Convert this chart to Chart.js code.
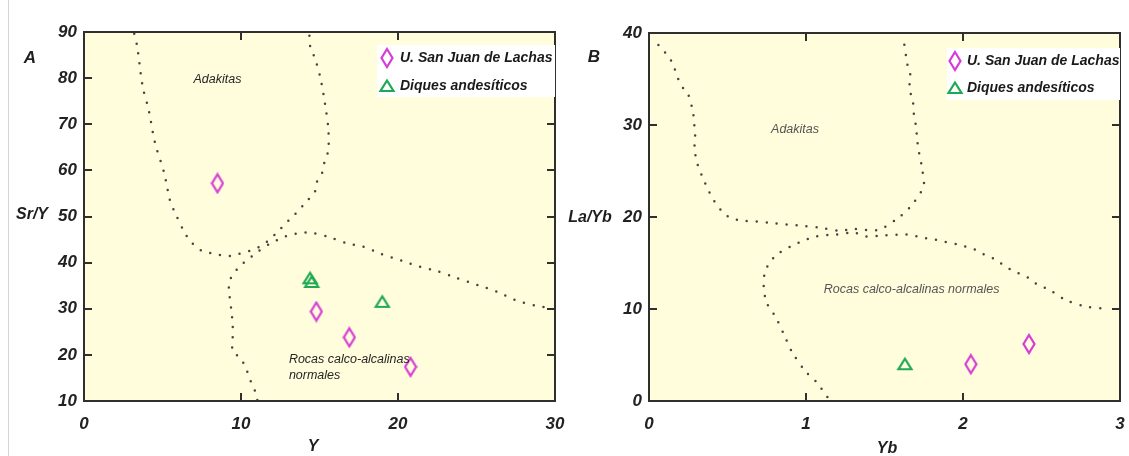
<!DOCTYPE html>
<html>
<head>
<meta charset="utf-8">
<script src="https://cdn.jsdelivr.net/npm/chart.js@4/dist/chart.umd.min.js"></script>
<style>
  html, body { margin: 0; padding: 0; background: #ffffff; }
  #wrap { position: relative; width: 1129px; height: 456px; overflow: hidden; }
  #chartA { position: absolute; left: 0; top: 0; }
  #chartB { position: absolute; left: 565px; top: 0; }
</style>
</head>
<body>
<div id="wrap">
  <canvas id="chartA" width="565" height="456"></canvas>
  <canvas id="chartB" width="564" height="456"></canvas>
</div>
<script>
// ---- Panel A: Sr/Y vs Y ----
const xTicksA = [0, 10, 20, 30];
const yTicksA = [10, 20, 30, 40, 50, 60, 70, 80, 90];
const lachasA = [[8.5, 57.2], [14.8, 29.4], [16.9, 23.8], [20.8, 17.4]];
const diquesA = [[14.4, 36.6], [14.5, 35.8], [19.0, 31.5]];
// field boundary: adakite field (left limb, base, right limb)
const adakiteBoundaryA = [
  [3.2, 89.6], [3.38, 87], [3.74, 78.1], [4.12, 73.1], [4.52, 66], [5.11, 59.4],
  [5.48, 53.4], [5.8, 50.8], [6.43, 46.4], [6.9, 44.2], [7.5, 42.6], [8.45, 41.8],
  [9.24, 41.4], [9.73, 41.8], [10.5, 42.5], [11.1, 43.3], [11.64, 44.5], [12.34, 46.7],
  [13.0, 49.0], [13.5, 50.7], [14.08, 52.9], [14.71, 55.4], [14.82, 57.4], [15.16, 59.4],
  [15.31, 61.7], [15.56, 64.4], [15.56, 69.1], [15.35, 74.4], [15.08, 79.7], [14.73, 84.1],
  [14.41, 86.8], [14.35, 89.6]
];
// field boundary: normal calc-alkaline rocks
const calcAlkBoundaryA = [
  [11.04, 10.2], [10.89, 12.2], [10.64, 14.1], [10.25, 17.6], [9.87, 19.6], [9.47, 20.7],
  [9.47, 23.9], [9.47, 26.5], [9.4, 29.2], [9.25, 33.6], [9.25, 35.9], [9.62, 38.0],
  [10.0, 39.5], [10.53, 40.9], [11.0, 42.2], [11.8, 44.0], [12.7, 45.5], [13.29, 46.1],
  [13.87, 46.5], [14.44, 46.5], [15.56, 45.6], [16.73, 44.2], [17.75, 43.5], [18.85, 42.0],
  [20.24, 40.4], [21.4, 39.1], [22.46, 38.2], [23.63, 36.8], [25.1, 35.1], [26.3, 33.7],
  [27.45, 31.9], [28.73, 30.7], [29.8, 30.1]
];

// ---- Panel B: La/Yb vs Yb ----
const xTicksB = [0, 1, 2, 3];
const yTicksB = [0, 10, 20, 30, 40];
const lachasB = [[2.05, 4.0], [2.42, 6.2]];
const diquesB = [[1.63, 4.0]];
const adakiteBoundaryB = [
  [0.06, 38.7], [0.13, 37.3], [0.155, 36.5], [0.186, 35.0], [0.218, 34.0], [0.25, 33.3],
  [0.28, 31.4], [0.288, 30.1], [0.294, 28.7], [0.29, 27.4], [0.31, 25.7], [0.339, 24.4],
  [0.373, 23.1], [0.413, 21.8], [0.466, 20.6], [0.519, 19.9], [0.6, 19.6], [0.685, 19.5],
  [0.774, 19.35], [0.875, 19.2], [0.992, 19.0], [1.104, 18.8], [1.21, 18.5], [1.305, 18.7],
  [1.458, 18.6], [1.58, 19.8], [1.659, 21.0], [1.748, 23.3], [1.74, 25.2], [1.718, 27.2],
  [1.708, 28.4], [1.702, 29.7], [1.687, 31.2], [1.68, 32.7], [1.659, 33.9], [1.664, 35.5],
  [1.649, 36.3], [1.638, 37.4], [1.623, 39.1]
];
const calcAlkBoundaryB = [
  [1.136, 0.43], [1.066, 2.05], [0.998, 3.2], [0.913, 5.27], [0.858, 7.3], [0.807, 9.1],
  [0.752, 10.6], [0.731, 12.3], [0.742, 14.2], [0.814, 15.9], [0.954, 17.2], [1.066, 17.9],
  [1.193, 18.1], [1.305, 18.3], [1.38, 17.9], [1.507, 18.0], [1.642, 18.1], [1.76, 17.7],
  [1.823, 17.55], [1.886, 17.3], [1.966, 17.0], [2.072, 16.5], [2.136, 15.9], [2.204, 15.4],
  [2.301, 14.3], [2.416, 13.4], [2.475, 12.65], [2.55, 12.1], [2.651, 11.0], [2.772, 10.3],
  [2.888, 10.05]
];

const seriesNames = ['U. San Juan de Lachas', 'Diques andesíticos'];

const FAMILY = '"Liberation Sans", Arial, sans-serif';
const MAGENTA = '#d63cd6';
const GREEN = '#1fa855';
const PLOT_FILL = '#fffddb';

// tall open diamond marker
function makeDiamond() {
  const c = document.createElement('canvas');
  c.width = 14; c.height = 22;
  const g = c.getContext('2d');
  g.strokeStyle = MAGENTA; g.lineWidth = 2.2; g.lineJoin = 'miter';
  g.beginPath();
  g.moveTo(7, 2); g.lineTo(12.5, 11); g.lineTo(7, 20); g.lineTo(1.5, 11); g.closePath();
  g.stroke();
  return c;
}
// open triangle marker
function makeTriangle() {
  const c = document.createElement('canvas');
  c.width = 18; c.height = 16;
  const g = c.getContext('2d');
  g.strokeStyle = GREEN; g.lineWidth = 2.2; g.lineJoin = 'miter';
  g.beginPath();
  g.moveTo(9, 2.5); g.lineTo(15.5, 13); g.lineTo(2.5, 13); g.closePath();
  g.stroke();
  return c;
}
const diamondImg = makeDiamond();
const triangleImg = makeTriangle();

const pts = arr => arr.map(([x, y]) => ({ x, y }));

function boundary(arr) {
  return {
    data: pts(arr), showLine: true, pointRadius: 0, pointHoverRadius: 0,
    borderColor: '#454545', borderWidth: 2.5, borderDash: [0, 10],
    borderCapStyle: 'round', fill: false, tension: 0.3, order: 2
  };
}
function markers(arr, img, label) {
  return {
    label, data: pts(arr), showLine: false, pointStyle: img,
    pointRadius: 8, pointHoverRadius: 8, order: 1
  };
}

const tickFont = { family: FAMILY, size: 17, style: 'italic', weight: 'bold' };

function scalesFor(xMin, xMax, xTicks, yMin, yMax, yTicks) {
  return {
    x: {
      type: 'linear', position: 'bottom', min: xMin, max: xMax,
      grid: { display: false, drawTicks: false }, border: { display: false },
      afterBuildTicks: s => { s.ticks = xTicks.map(v => ({ value: v })); },
      afterFit: s => { s.height = 55; s.paddingLeft = 0; s.paddingRight = 0; },
      ticks: { font: tickFont, color: '#222', padding: 13, maxRotation: 0, autoSkip: false }
    },
    y: {
      type: 'linear', position: 'left', min: yMin, max: yMax,
      grid: { display: false, drawTicks: false }, border: { display: false },
      afterBuildTicks: s => { s.ticks = yTicks.map(v => ({ value: v })); },
      afterFit: s => { s.width = 84; s.paddingTop = 0; s.paddingBottom = 0; },
      ticks: { font: tickFont, color: '#222', padding: 7, autoSkip: false }
    }
  };
}

function decor(cfg) {
  return {
    id: 'decor_' + cfg.key,
    beforeDatasetsDraw(chart) {
      const { ctx, chartArea: a } = chart;
      ctx.save();
      ctx.fillStyle = PLOT_FILL;
      ctx.fillRect(a.left, a.top, a.right - a.left, a.bottom - a.top);
      ctx.restore();
    },
    afterDatasetsDraw(chart) {
      const { ctx, chartArea: a, scales: { x, y } } = chart;
      ctx.save();
      // region names
      ctx.fillStyle = cfg.regionColor;
      ctx.font = 'italic 12.5px ' + FAMILY;
      ctx.textBaseline = 'middle';
      cfg.regions.forEach(r => {
        ctx.textAlign = r.align;
        ctx.fillText(r.text, x.getPixelForValue(r.x), y.getPixelForValue(r.y));
      });
      // frame
      ctx.strokeStyle = '#2f2f2f'; ctx.lineWidth = 2;
      ctx.strokeRect(a.left, a.top, a.right - a.left, a.bottom - a.top);
      // inward tick marks on all four sides
      const L = 8;
      ctx.beginPath();
      cfg.innerX.forEach(v => {
        const px = Math.round(x.getPixelForValue(v));
        ctx.moveTo(px, a.bottom); ctx.lineTo(px, a.bottom - L);
        ctx.moveTo(px, a.top); ctx.lineTo(px, a.top + L);
      });
      cfg.innerY.forEach(v => {
        const py = Math.round(y.getPixelForValue(v));
        ctx.moveTo(a.left, py); ctx.lineTo(a.left + L, py);
        ctx.moveTo(a.right, py); ctx.lineTo(a.right - L, py);
      });
      ctx.stroke();
      // legend box
      const lg = cfg.legend;
      ctx.fillStyle = '#ffffff';
      ctx.fillRect(lg.x, lg.y, lg.w, lg.h);
      ctx.drawImage(diamondImg, lg.mx - diamondImg.width / 2, lg.y + lg.r1 - diamondImg.height / 2);
      ctx.drawImage(triangleImg, lg.mx - triangleImg.width / 2, lg.y + lg.r2 - triangleImg.height / 2);
      ctx.fillStyle = '#1a1a1a';
      ctx.font = 'italic bold 14px ' + FAMILY;
      ctx.textAlign = 'left'; ctx.textBaseline = 'middle';
      ctx.fillText(seriesNames[0], lg.tx, lg.y + lg.r1);
      ctx.fillText(seriesNames[1], lg.tx, lg.y + lg.r2);
      ctx.restore();
    },
    afterDraw(chart) {
      const { ctx } = chart;
      ctx.save();
      ctx.fillStyle = '#1e1e1e';
      ctx.textBaseline = 'middle';
      cfg.titles.forEach(t => {
        ctx.font = 'italic bold ' + t.size + 'px ' + FAMILY;
        ctx.textAlign = t.align;
        ctx.fillText(t.text, t.x, t.y);
      });
      if (cfg.edgeLine) {
        ctx.strokeStyle = '#d4d4d4'; ctx.lineWidth = 1;
        ctx.beginPath(); ctx.moveTo(8.5, 0); ctx.lineTo(8.5, 456); ctx.stroke();
      }
      ctx.restore();
    }
  };
}

Chart.defaults.animation = false;

new Chart(document.getElementById('chartA'), {
  type: 'scatter',
  data: {
    datasets: [
      boundary(adakiteBoundaryA),
      boundary(calcAlkBoundaryA),
      markers(lachasA, diamondImg, seriesNames[0]),
      markers(diquesA, triangleImg, seriesNames[1])
    ]
  },
  options: {
    responsive: false, animation: false, events: [],
    layout: { padding: { left: 0, top: 32, right: 10, bottom: 0 } },
    plugins: { legend: { display: false }, tooltip: { enabled: false } },
    scales: scalesFor(0, 30, xTicksA, 10, 90, yTicksA)
  },
  plugins: [decor({
    key: 'A',
    innerX: [10, 20], innerY: [20, 30, 40, 50, 60, 70, 80],
    regionColor: '#262626',
    regions: [
      { text: 'Adakitas', x: 8.5, y: 79.6, align: 'center' },
      { text: 'Rocas calco-alcalinas', x: 13.05, y: 19.1, align: 'left' },
      { text: 'normales', x: 13.05, y: 15.6, align: 'left' }
    ],
    legend: { x: 377, y: 45, w: 178, h: 52, mx: 387, tx: 400, r1: 13, r2: 41 },
    titles: [
      { text: 'A', x: 30, y: 58, size: 17, align: 'center' },
      { text: 'Sr/Y', x: 32, y: 215, size: 16, align: 'center' },
      { text: 'Y', x: 313, y: 447, size: 16, align: 'center' }
    ],
    edgeLine: true
  })]
});

new Chart(document.getElementById('chartB'), {
  type: 'scatter',
  data: {
    datasets: [
      boundary(adakiteBoundaryB),
      boundary(calcAlkBoundaryB),
      markers(lachasB, diamondImg, seriesNames[0]),
      markers(diquesB, triangleImg, seriesNames[1])
    ]
  },
  options: {
    responsive: false, animation: false, events: [],
    layout: { padding: { left: 0, top: 33, right: 8, bottom: 0 } },
    plugins: { legend: { display: false }, tooltip: { enabled: false } },
    scales: scalesFor(0, 3, xTicksB, 0, 40, yTicksB)
  },
  plugins: [decor({
    key: 'B',
    innerX: [1, 2], innerY: [10, 20, 30],
    regionColor: '#555555',
    regions: [
      { text: 'Adakitas', x: 0.93, y: 29.5, align: 'center' },
      { text: 'Rocas calco-alcalinas normales', x: 1.113, y: 12.1, align: 'left' }
    ],
    legend: { x: 382, y: 48, w: 173, h: 52, mx: 390, tx: 402, r1: 13, r2: 40 },
    titles: [
      { text: 'B', x: 29, y: 57, size: 17, align: 'center' },
      { text: 'La/Yb', x: 25, y: 218, size: 16, align: 'center' },
      { text: 'Yb', x: 322, y: 449, size: 16, align: 'center' }
    ],
    edgeLine: false
  })]
});
</script>
</body>
</html>
